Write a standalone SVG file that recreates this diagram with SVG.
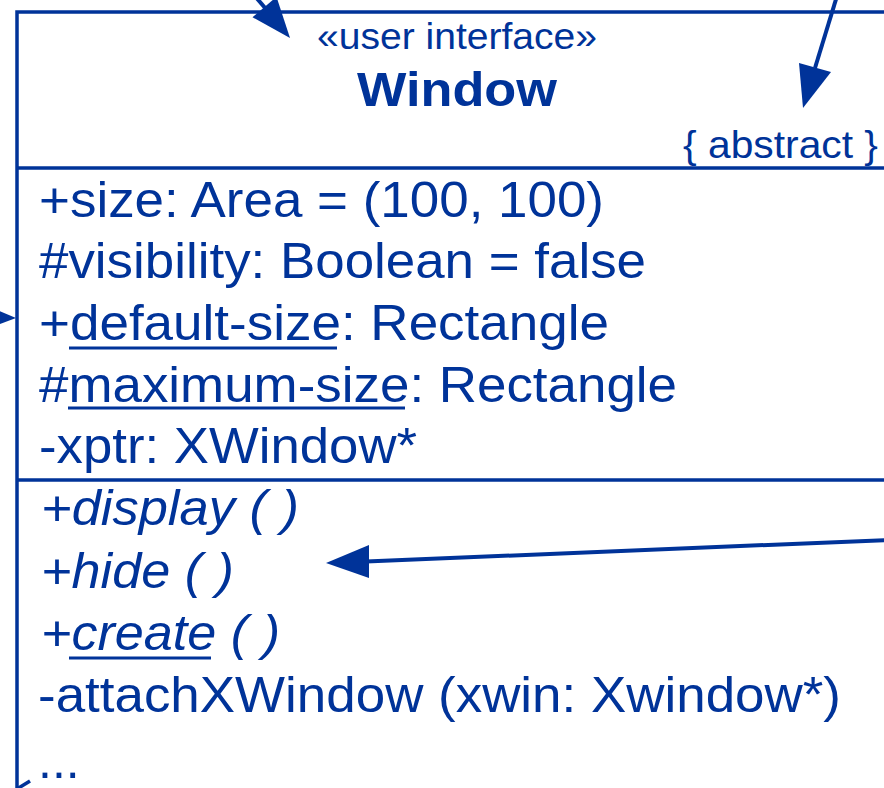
<svg xmlns="http://www.w3.org/2000/svg" width="884" height="788" viewBox="0 0 884 788">
  <style>
    .edge { fill: none; stroke: #003399; stroke-width: 3.5; }
    .wire { fill: none; stroke: #003399; stroke-width: 4; }
    .head { fill: #003399; stroke: none; }
    .uline { stroke: #003399; stroke-width: 3; }
    text { font-family: "Liberation Sans", Arial, Helvetica, sans-serif; fill: #003399; }
    .stereo { font-size: 37px; }
    .name { font-size: 49px; font-weight: bold; }
    .prop { font-size: 38px; }
    .member { font-size: 50px; }
    .op { font-size: 50px; font-style: italic; }
  </style>
  <rect width="884" height="788" fill="#ffffff"/>

  <g id="window-class">
    <!-- class frame: runs on past the right and bottom borders -->
    <path class="edge" d="M17 792 V12 H890"/>
    <line class="edge" x1="17" y1="168" x2="890" y2="168"/>
    <line class="edge" x1="17" y1="480" x2="890" y2="480"/>

    <!-- name compartment -->
    <text class="stereo" x="317" y="49" textLength="280" lengthAdjust="spacingAndGlyphs">«user interface»</text>
    <text class="name" x="357" y="106" textLength="200" lengthAdjust="spacingAndGlyphs">Window</text>
    <text class="prop" x="683" y="158" textLength="195" lengthAdjust="spacingAndGlyphs">{ abstract }</text>

    <!-- attributes -->
    <text class="member" x="39" y="217" textLength="565" lengthAdjust="spacingAndGlyphs">+size: Area = (100, 100)</text>
    <text class="member" x="39" y="278" textLength="607" lengthAdjust="spacingAndGlyphs">#visibility: Boolean = false</text>
    <text class="member" x="39" y="340" textLength="570" lengthAdjust="spacingAndGlyphs">+default-size: Rectangle</text>
    <line class="uline" x1="69" y1="348" x2="337" y2="348"/>
    <text class="member" x="39" y="402" textLength="638" lengthAdjust="spacingAndGlyphs">#maximum-size: Rectangle</text>
    <line class="uline" x1="68" y1="408" x2="405" y2="408"/>
    <text class="member" x="39" y="463" textLength="378" lengthAdjust="spacingAndGlyphs">-xptr: XWindow*</text>

    <!-- operations -->
    <text class="op" x="41" y="525" textLength="258" lengthAdjust="spacingAndGlyphs">+display ( )</text>
    <text class="op" x="41" y="588" textLength="193" lengthAdjust="spacingAndGlyphs">+hide ( )</text>
    <text class="op" x="41" y="650" textLength="239" lengthAdjust="spacingAndGlyphs">+create ( )</text>
    <line class="uline" x1="69" y1="658" x2="211" y2="658"/>
    <text class="member" x="38" y="712" textLength="803" lengthAdjust="spacingAndGlyphs">-attachXWindow (xwin: Xwindow*)</text>
    <text class="member" x="38" y="778">...</text>
  </g>

  <g id="connectors">
    <!-- from upper left onto the stereotype -->
    <line class="wire" x1="248" y1="-12" x2="266" y2="9"/>
    <polygon class="head" points="290,38 252.5,17.2 276.5,-3.2"/>
    <!-- from upper right onto the abstract constraint -->
    <line class="wire" x1="837" y1="-4" x2="815" y2="68"/>
    <polygon class="head" points="803,108 799,63 831,72"/>
    <!-- from the right onto +hide -->
    <line class="wire" x1="888" y1="540" x2="366" y2="561.5"/>
    <polygon class="head" points="326,563 369,545 369,578"/>
    <!-- from the left onto the attribute compartment -->
    <polygon class="head" points="16,318 -27,300 -27,334"/>
    <!-- leaving the lower left corner -->
    <line class="edge" x1="17" y1="789" x2="30" y2="781"/>
  </g>
</svg>
